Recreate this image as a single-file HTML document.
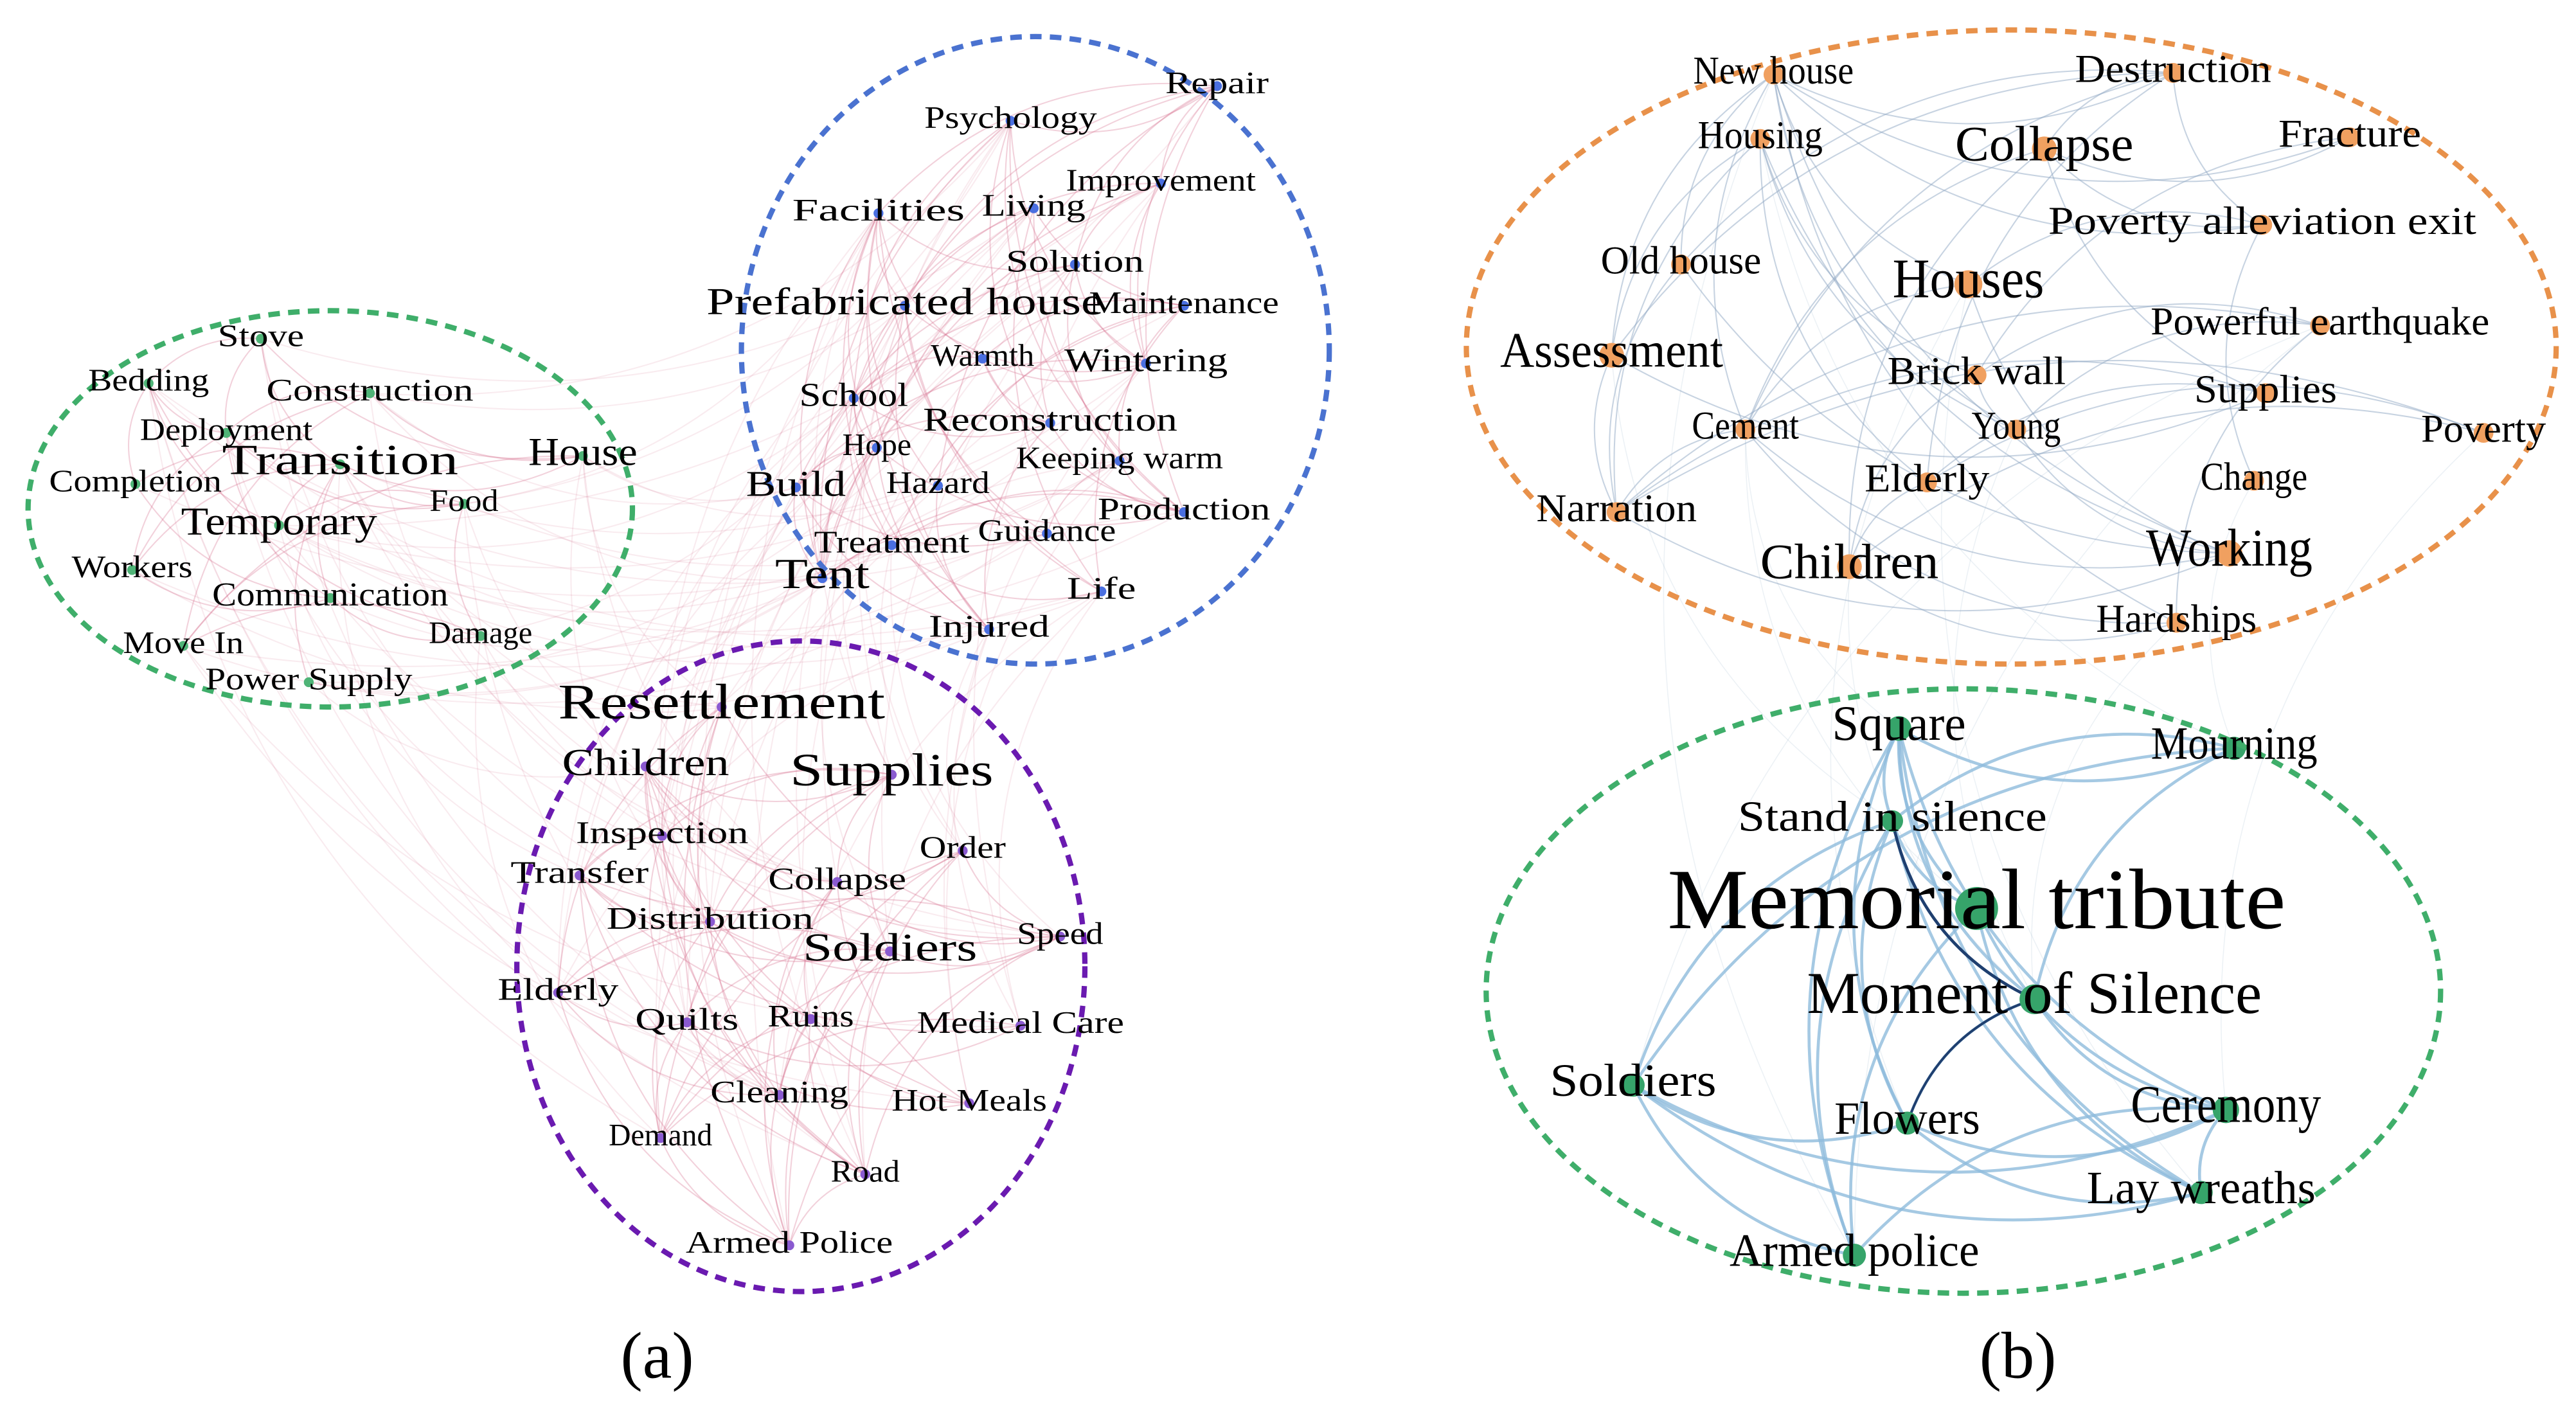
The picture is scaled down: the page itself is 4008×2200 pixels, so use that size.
<!DOCTYPE html>
<html><head><meta charset="utf-8">
<style>
html,body{margin:0;padding:0;background:#fff;width:4008px;height:2200px;overflow:hidden}
svg{display:block}
text{font-family:"Liberation Serif",serif;fill:#000;text-anchor:middle;dominant-baseline:middle}
</style></head>
<body>
<svg id="s" width="4008" height="2200" viewBox="0 0 1560 856" xmlns="http://www.w3.org/2000/svg">
<g id="edges"></g>
<g id="dots"></g>
<ellipse cx="200" cy="308" rx="183" ry="120" fill="none" stroke="#3fae6a" stroke-width="3.2" stroke-dasharray="7,5"/>
<ellipse cx="627" cy="212" rx="178" ry="190" fill="none" stroke="#4a72d0" stroke-width="3.2" stroke-dasharray="7,5"/>
<ellipse cx="485" cy="585" rx="172" ry="197" fill="none" stroke="#6a1ab0" stroke-width="3.2" stroke-dasharray="7,5"/>
<ellipse cx="1218" cy="210" rx="330" ry="192" fill="none" stroke="#e8914a" stroke-width="3.2" stroke-dasharray="7,5"/>
<ellipse cx="1189" cy="600" rx="289" ry="183" fill="none" stroke="#3fae6a" stroke-width="3.2" stroke-dasharray="7,5"/>
<g id="labels"></g>
<text x="398" y="825" font-size="40">(a)</text>
<text x="1222" y="825" font-size="40">(b)</text>
</svg>
<script>
var A=[
["Stove",158,205,19,0],["Bedding",90,232,19,0],["Construction",224,238,19,0],["Deployment",137,262,19,0],
["Transition",206,281,26,0],["Completion",82,293,19,0],["Food",281,305,19,0],["House",353,276,24,0],
["Temporary",169,318,24,0],["Workers",80,345,19,0],["Communication",200,362,20,0],["Damage",291,385,19,0],
["Move In",111,391,19,0],["Power Supply",187,413,19,0],
["Psychology",612,73,19,1],["Repair",737,52,19,1],["Improvement",703,111,19,1],["Facilities",532,129,19,1],
["Living",626,126,19,1],["Solution",651,160,19,1],["Prefabricated house",548,185,23,1],["Maintenance",717,185,19,1],
["Warmth",595,217,19,1],["Wintering",694,220,20,1],["School",517,241,20,1],["Reconstruction",636,256,20,1],
["Hope",531,271,19,1],["Keeping warm",678,279,19,1],["Build",482,295,22,1],["Hazard",568,294,19,1],
["Production",717,310,19,1],["Treatment",540,330,19,1],["Guidance",634,323,19,1],["Tent",498,350,26,1],
["Life",667,358,19,1],["Injured",599,381,19,1],
["Resettlement",437,428,30,2],["Children",391,464,23,2],["Supplies",540,469,28,2],["Inspection",401,506,19,2],
["Transfer",351,530,19,2],["Order",583,515,19,2],["Collapse",507,534,19,2],["Distribution",430,558,19,2],
["Soldiers",539,576,24,2],["Speed",642,567,19,2],["Elderly",338,601,19,2],["Quilts",416,619,19,2],
["Ruins",491,617,19,2],["Medical Care",618,621,19,2],["Cleaning",472,663,19,2],["Hot Meals",587,668,19,2],
["Demand",400,689,19,2],["Road",524,711,19,2],["Armed Police",478,754,19,2]];
var B=[
["New house",1074,45,24,3],["Destruction",1316,44,24,3],["Housing",1066,84,24,3],["Collapse",1238,90,30,3],
["Fracture",1423,83,24,3],["Poverty alleviation exit",1370,136,24,3],["Old house",1018,160,24,3],["Houses",1192,172,34,3],
["Powerful earthquake",1405,197,24,3],["Assessment",976,215,30,3],["Brick wall",1197,227,24,3],["Supplies",1372,238,24,3],
["Cement",1057,260,24,3],["Young",1221,260,24,3],["Poverty",1504,262,24,3],["Elderly",1167,292,24,3],
["Change",1365,291,24,3],["Narration",979,310,24,3],["Working",1350,335,32,3],["Children",1120,343,30,3],
["Hardships",1318,377,24,3],
["Square",1150,441,30,4],["Mourning",1353,453,28,4],["Stand in silence",1146,497,26,4],["Memorial tribute",1197,550,52,4],
["Moment of Silence",1232,605,36,4],["Soldiers",989,657,28,4],["Flowers",1155,680,28,4],["Ceremony",1348,672,32,4],
["Lay wreaths",1333,722,28,4],["Armed police",1123,760,28,4]];
var col=["#4fb477","#4a6fe0","#8a5ad0","#f0a060","#36a46a"];
var NS="http://www.w3.org/2000/svg";
var E=document.getElementById("edges"),D=document.getElementById("dots"),L=document.getElementById("labels");
var seed=7;function r(){seed=(seed*16807)%2147483647;return seed/2147483647;}
function edge(a,b,c,w,o){var p=document.createElementNS(NS,"path");
 var mx=(a[1]+b[1])/2,my=(a[2]+b[2])/2,dx=b[1]-a[1],dy=b[2]-a[2];var k=0.25;
 p.setAttribute("d","M"+a[1]+","+a[2]+" Q"+(mx-dy*k)+","+(my+dx*k)+" "+b[1]+","+b[2]);
 p.setAttribute("fill","none");p.setAttribute("stroke",c);p.setAttribute("stroke-width",w);p.setAttribute("stroke-opacity",o);E.appendChild(p);}
for(var i=0;i<A.length;i++)for(var j=i+1;j<A.length;j++){var x=r();var same=A[i][4]==A[j][4];
 if((same&&x<0.35)||(!same&&x<0.08))edge(A[i],A[j],"#d87090",0.8,same?0.32:0.14);}
for(var i=0;i<B.length;i++)for(var j=i+1;j<B.length;j++){var x=r();var same=B[i][4]==B[j][4];
 if(same&&B[i][4]==4&&x<0.6)edge(B[i],B[j],"#8fbcdc",1.8,0.8);
 else if(same&&x<0.3)edge(B[i],B[j],"#8fa8c4",0.8,0.5);
 else if(!same&&x<0.05)edge(B[i],B[j],"#a0b8cc",0.6,0.2);}
edge(B[23],B[25],"#1f3f6f",1.8,1);edge(B[25],B[27],"#1f3f6f",1.5,1);
function put(n){var c=document.createElementNS(NS,"circle");c.setAttribute("cx",n[1]);c.setAttribute("cy",n[2]);
 var rad=n[4]>=3?Math.max(5,n[3]/4):3;c.setAttribute("r",rad);c.setAttribute("fill",col[n[4]]);D.appendChild(c);
 var t=document.createElementNS(NS,"text");t.setAttribute("x",n[1]);t.setAttribute("y",n[2]);t.setAttribute("font-size",n[3]);
 var f=n[4]>=3?0.45:0.55;
 t.setAttribute("textLength",n[0].length*n[3]*f);t.setAttribute("lengthAdjust","spacingAndGlyphs");
 t.textContent=n[0];L.appendChild(t);}
A.forEach(put);B.forEach(put);
</script>
</body></html>
